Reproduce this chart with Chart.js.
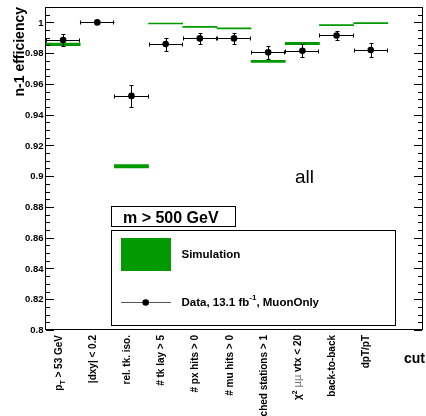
<!DOCTYPE html>
<html lang="en">
<head>
    <meta charset="UTF-8">
    <title>n-1 efficiency</title>
    <script src="https://cdn.jsdelivr.net/npm/chart.js"></script>
    <style>
        html, body { margin: 0; padding: 0; background: #fff; }
        canvas { display: block; }
    </style>
</head>
<body>
    <canvas id="grafico" width="426" height="416"></canvas>
<script>
    // cortes (o último bin fica vazio, como no original)
    const cortes = ['p_{T} > 53 GeV', '|dxy| < 0.2', 'rel. tk. iso.', '# tk lay > 5', '# px hits > 0',
        '# mu hits > 0', '# matched stations > 1', 'χ^{2} ~{μμ} vtx < 20', 'back-to-back', 'dpT/pT', ''];

    // dados
    const effDados = [0.9885, 1.000, 0.9522, 0.9859, 0.9896, 0.9896, 0.9805, 0.9815, 0.9915, 0.9820];
    const errDados = [0.0038, 0.0000, 0.0070, 0.0042, 0.0037, 0.0035, 0.0043, 0.0043, 0.0030, 0.0046];

    // simulação
    const effSim = [0.9857, 1.000, 0.9064, 0.9993, 0.9971, 0.9961, 0.9746, 0.9863, 0.9982, 0.9995];
    const errSim = [0.0009, 0.0000, 0.0011, 0.0003, 0.0003, 0.0003, 0.0007, 0.0008, 0.0003, 0.0003];

    // eixo y
    const yMin = 0.8;
    const yMax = 1.01;
    const ticksY = [0.8, 0.82, 0.84, 0.86, 0.88, 0.9, 0.92, 0.94, 0.96, 0.98, 1];
    const passoMenor = 0.005;

    const VERDE = '#009900';
    const FONTE = '"Liberation Sans", Arial, Helvetica, sans-serif';

    // texto com sub/sobrescrito simples: _{..} ^{..} ~{..} (fonte normal)
    function partes(texto) {
        const out = [];
        const re = /(_\{[^}]*\}|\^\{[^}]*\}|~\{[^}]*\})/;
        texto.split(re).forEach(p => {
            if (!p) return;
            if (p.startsWith('_{')) out.push({ t: p.slice(2, -1), tipo: 'sub' });
            else if (p.startsWith('^{')) out.push({ t: p.slice(2, -1), tipo: 'sup' });
            else if (p.startsWith('~{')) out.push({ t: p.slice(2, -1), tipo: 'fino' });
            else out.push({ t: p, tipo: 'normal' });
        });
        return out;
    }

    function fontePara(parte, tam) {
        if (parte.tipo === 'sub' || parte.tipo === 'sup') return 'bold ' + (tam * 0.7) + 'px ' + FONTE;
        if (parte.tipo === 'fino') return (tam) + 'px "DejaVu Sans", ' + FONTE;
        return 'bold ' + tam + 'px ' + FONTE;
    }

    function larguraRica(ctx, texto, tam) {
        let w = 0;
        partes(texto).forEach(p => {
            ctx.font = fontePara(p, tam);
            w += ctx.measureText(p.t).width;
        });
        return w;
    }

    function textoRico(ctx, texto, x, y, tam, cor) {
        let cx = x;
        partes(texto).forEach(p => {
            ctx.font = fontePara(p, tam);
            let dy = 0;
            if (p.tipo === 'sub') dy = tam * 0.3;
            if (p.tipo === 'sup') dy = -tam * 0.4;
            ctx.fillStyle = p.tipo === 'fino' ? '#777' : cor;
            ctx.fillText(p.t, cx, y + dy);
            cx += ctx.measureText(p.t).width;
        });
    }

    // plugin: moldura, ticks, rótulos, barras de erro e legenda
    const desenhoRoot = {
        id: 'desenhoRoot',
        afterDatasetsDraw(chart) {
            const ctx = chart.ctx;
            const a = chart.chartArea;
            const x = chart.scales.x;
            const y = chart.scales.y;
            const meiaLargura = (x.getPixelForValue(1) - x.getPixelForValue(0)) / 2;

            ctx.save();
            ctx.strokeStyle = '#000';
            ctx.lineWidth = 1;

            // barras de erro dos dados
            effDados.forEach((v, i) => {
                const cx = x.getPixelForValue(i);
                const py = Math.round(y.getPixelForValue(v)) + 0.5;
                const x0 = Math.round(cx - meiaLargura) + 0.5;
                const x1 = Math.round(cx + meiaLargura) - 0.5;
                ctx.beginPath();
                ctx.moveTo(x0, py); ctx.lineTo(x1, py);
                ctx.moveTo(x0, py - 2); ctx.lineTo(x0, py + 2);
                ctx.moveTo(x1, py - 2); ctx.lineTo(x1, py + 2);
                if (errDados[i] > 0) {
                    const yc = Math.round(cx) + 0.5;
                    const yt = Math.round(y.getPixelForValue(v + errDados[i])) + 0.5;
                    const yb = Math.round(y.getPixelForValue(v - errDados[i])) + 0.5;
                    ctx.moveTo(yc, yt); ctx.lineTo(yc, yb);
                    ctx.moveTo(yc - 2, yt); ctx.lineTo(yc + 2, yt);
                    ctx.moveTo(yc - 2, yb); ctx.lineTo(yc + 2, yb);
                }
                ctx.stroke();
            });

            // moldura
            ctx.strokeRect(Math.round(a.left) - 0.5, Math.round(a.top) + 0.5,
                Math.round(a.right - a.left) + 1, Math.round(a.bottom - a.top) - 1);

            // ticks do eixo y (dos dois lados, para dentro)
            ctx.beginPath();
            for (let v = yMin; v <= yMax + 1e-9; v += passoMenor) {
                const py = Math.round(y.getPixelForValue(v)) + 0.5;
                const maior = ticksY.some(t => Math.abs(t - v) < 1e-6);
                const len = maior ? 8 : 4;
                ctx.moveTo(a.left, py); ctx.lineTo(a.left + len, py);
                ctx.moveTo(a.right, py); ctx.lineTo(a.right - len, py);
            }
            ctx.stroke();

            // rótulos do eixo y
            ctx.fillStyle = '#000';
            ctx.font = 'bold 9.5px ' + FONTE;
            ctx.textAlign = 'right';
            ctx.textBaseline = 'middle';
            ticksY.forEach(t => {
                ctx.fillText(String(+t.toFixed(2)), 43.5, y.getPixelForValue(t) + 0.5);
            });

            // rótulos dos cortes (rotacionados)
            ctx.textAlign = 'left';
            ctx.textBaseline = 'alphabetic';
            cortes.forEach((c, i) => {
                if (!c) return;
                const cx = x.getPixelForValue(i) - 1.5;
                ctx.save();
                ctx.translate(cx, a.bottom + 5);
                ctx.rotate(-Math.PI / 2);
                const w = larguraRica(ctx, c, 10);
                textoRico(ctx, c, -w, 0, 10, '#000');
                ctx.restore();
            });

            // título do eixo y
            ctx.save();
            ctx.translate(23.5, a.top);
            ctx.rotate(-Math.PI / 2);
            ctx.font = 'bold 14px ' + FONTE;
            ctx.textAlign = 'right';
            ctx.fillText('n-1 efficiency', 0, 0);
            ctx.restore();

            // título do eixo x
            ctx.font = 'bold 14px ' + FONTE;
            ctx.textAlign = 'right';
            ctx.fillText('cut', 425, 363);

            // "all"
            ctx.font = '19px ' + FONTE;
            ctx.textAlign = 'left';
            ctx.fillText('all', 295, 182.5);

            // caixa do corte de massa
            ctx.strokeRect(111.5, 206.5, 124, 20);
            ctx.font = 'bold 16px ' + FONTE;
            ctx.fillText('m > 500 GeV', 123, 222.5);

            // legenda
            ctx.strokeRect(111.5, 230.5, 284, 95);
            ctx.fillStyle = VERDE;
            ctx.fillRect(121, 238, 50, 33);
            ctx.fillStyle = '#000';
            ctx.textBaseline = 'middle';
            textoRico(ctx, 'Simulation', 181.5, 255, 11.5, '#000');

            ctx.strokeStyle = '#555';
            ctx.beginPath();
            ctx.moveTo(121, 302.5); ctx.lineTo(171, 302.5);
            ctx.stroke();
            ctx.fillStyle = '#000';
            ctx.beginPath();
            ctx.arc(145.7, 302.5, 3.3, 0, Math.PI * 2);
            ctx.fill();
            textoRico(ctx, 'Data, 13.1 fb^{-1}, MuonOnly', 181.5, 302.5, 11.5, '#000');

            ctx.restore();
        }
    };

    const ctx = document.getElementById('grafico').getContext('2d');

    const grafico = new Chart(ctx, {
        type: 'bar',
        data: {
            labels: cortes,
            datasets: [
                {
                    type: 'line',
                    label: 'Data, 13.1 fb-1, MuonOnly',
                    data: effDados,
                    showLine: false,
                    pointRadius: 3.3,
                    pointBackgroundColor: '#000',
                    pointBorderWidth: 0,
                    order: 0
                },
                {
                    label: 'Simulation',
                    data: effSim.map((v, i) => [v - errSim[i], v + errSim[i]]),
                    backgroundColor: VERDE,
                    borderWidth: 0,
                    barPercentage: 1,
                    categoryPercentage: 1,
                    order: 1
                }
            ]
        },
        options: {
            responsive: false,
            animation: false,
            layout: { padding: { left: 46, right: 0, top: 7, bottom: 86 } },
            plugins: {
                legend: { display: false },
                tooltip: { enabled: false }
            },
            scales: {
                x: { display: false, offset: true },
                y: { display: false, min: yMin, max: yMax }
            }
        },
        plugins: [desenhoRoot]
    });
</script>
</body>
</html>
